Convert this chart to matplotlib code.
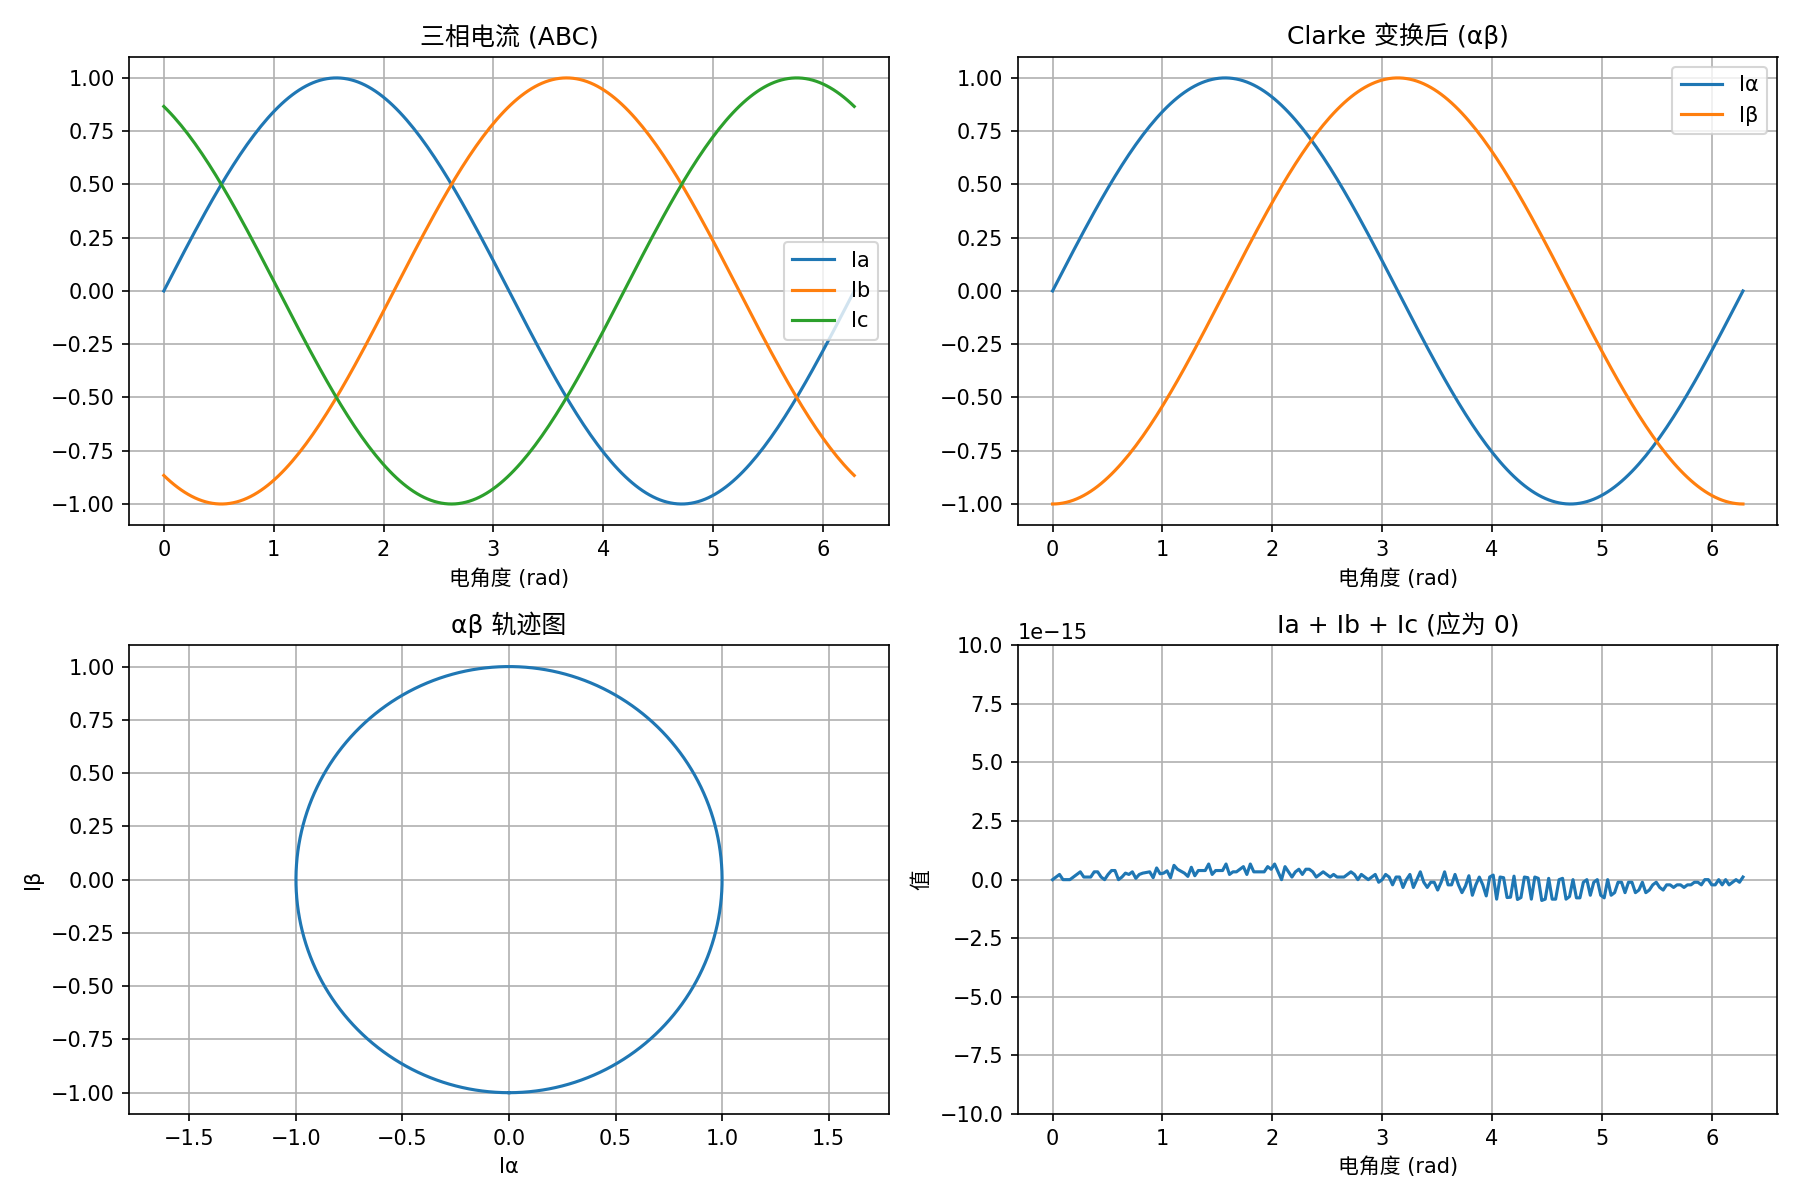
import numpy as np
import matplotlib
matplotlib.use("Agg")
import matplotlib.pyplot as plt

plt.rcParams['font.family'] = ['DejaVu Sans', 'Noto Sans CJK SC']
plt.rcParams['axes.unicode_minus'] = True

# electrical angle samples and phase offsets
theta = np.linspace(0, 2 * np.pi, 200)
phase_a = 0.0
phase_b = -2 * np.pi / 3
phase_c = 2 * np.pi / 3
amplitude = 1.0

Ia = amplitude * np.sin(theta + phase_a)
Ib = amplitude * np.sin(theta + phase_b)
Ic = amplitude * np.sin(theta + phase_c)

# Clarke transform
I_alpha = (2 / 3) * (Ia - 0.5 * Ib - 0.5 * Ic)
I_beta = (2 / 3) * (np.sqrt(3) / 2) * (Ib - Ic)
I_sum = Ia + Ib + Ic

fig, axs = plt.subplots(2, 2, figsize=(12, 8), dpi=150)

ax = axs[0, 0]
ax.plot(theta, Ia, label='Ia')
ax.plot(theta, Ib, label='Ib')
ax.plot(theta, Ic, label='Ic')
ax.set_title('三相电流 (ABC)')
ax.set_xlabel('电角度 (rad)')
ax.legend(loc='center right')
ax.grid(True)

ax = axs[0, 1]
ax.plot(theta, I_alpha, label='Iα')
ax.plot(theta, I_beta, label='Iβ')
ax.set_title('Clarke 变换后 (αβ)')
ax.set_xlabel('电角度 (rad)')
ax.legend(loc='upper right')
ax.grid(True)

ax = axs[1, 0]
ax.plot(I_alpha, I_beta)
ax.set_title('αβ 轨迹图')
ax.set_xlabel('Iα')
ax.set_ylabel('Iβ')
ax.axis('equal')
ax.grid(True)

ax = axs[1, 1]
ax.plot(theta, I_sum)
ax.set_title('Ia + Ib + Ic (应为 0)')
ax.set_xlabel('电角度 (rad)')
ax.set_ylabel('值')
ax.set_ylim(-1e-14, 1e-14)
ax.grid(True)

plt.tight_layout()
plt.savefig('out.png', dpi=150)
